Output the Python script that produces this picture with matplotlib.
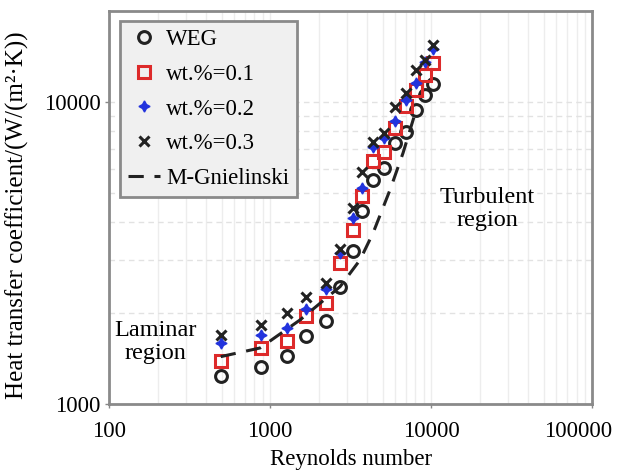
import numpy as np
import matplotlib.pyplot as plt
import matplotlib.transforms as mtransforms
from matplotlib.ticker import FixedLocator, NullFormatter, LogLocator

plt.rcParams['font.family'] = ['Liberation Serif', 'DejaVu Serif']

# Reynolds numbers of the measurement points
re = [496, 873, 1275, 1662, 2228, 2722, 3278, 3712, 4381, 5105, 5976, 6942, 8012, 9177, 10290]

h_weg = [1238, 1329, 1442, 1680, 1888, 2446, 3218, 4355, 5516, 6031, 7298, 7973, 9408, 10546, 11446]
h_01 = [1385, 1532, 1613, 1956, 2165, 2937, 3754, 4884, 6346, 6845, 8183, 9700, 10957, 12288, 13431]
h_02 = [1596, 1688, 1785, 2059, 2398, 3155, 4129, 5178, 7112, 7583, 8650, 10153, 11532, 13598, 14945]
h_03 = [1696, 1830, 1996, 2256, 2510, 3268, 4446, 5877, 7388, 7914, 9647, 10689, 12764, 13776, 15444]

# M-Gnielinski correlation curve
re_gn = [494, 867, 1535, 2722, 3622, 4363, 5559, 6698, 7834]
h_gn = [1434, 1532, 1897, 2445, 2999, 3681, 5113, 6776, 8917]

fig = plt.figure(figsize=(6.17, 4.73), dpi=100)
ax = fig.add_axes([0.1767, 0.146, 0.783, 0.831])
ax.set_xscale('log')
ax.set_yscale('log')
ax.set_xlim(100, 100000)
ax.set_ylim(1000, 20000)

ax.plot(re, h_weg, 'o', mfc='none', mec='#222222', mew=2.2, ms=8.5, ls='none', label='WEG')
ax.plot(re, h_01, 's', mfc='none', mec='#dd2a2a', mew=2.2, ms=8, ls='none', label='wt.%=0.1')
ax.plot(re, h_02, marker=(4, 1, 0), color='#2233dd', ms=8, ls='none', label='wt.%=0.2')
ax.plot(re, h_03, 'x', color='#222222', mew=2.2, ms=7, ls='none', label='wt.%=0.3')
ax.plot(re_gn, h_gn, '--', color='#222222', lw=2.2, dashes=(5, 3.5), label='M-Gnielinski')

# grid
ax.xaxis.set_minor_locator(LogLocator(base=10, subs=np.arange(2, 10)))
ax.yaxis.set_minor_locator(FixedLocator([2000, 3000, 4000, 5000, 6000, 7000, 8000, 9000]))
ax.xaxis.set_minor_formatter(NullFormatter())
ax.yaxis.set_minor_formatter(NullFormatter())
ax.grid(True, axis='x', which='both', color='#ededed', lw=1, ls='-')
ax.grid(True, axis='y', which='both', color='#e2e2e2', lw=1, ls=(0, (4, 3)))
ax.set_axisbelow(True)

ax.set_xticks([100, 1000, 10000, 100000])
ax.set_xticklabels(['100', '1000', '10000', '100000'])
ax.set_yticks([1000, 10000])
ax.set_yticklabels(['1000', '10000'])
ax.tick_params(which='major', length=3, width=1, color='#888888', labelsize=16.5, pad=3)
ax.tick_params(which='minor', length=0)
ax.tick_params(axis='x', pad=9)

# the last x label sits a bit left of its tick in the original
lab = ax.get_xticklabels()[-1]
lab.set_transform(lab.get_transform() + mtransforms.ScaledTranslation(-14 / 100, 0, fig.dpi_scale_trans))

for s in ax.spines.values():
    s.set_color('#8a8a8a')
    s.set_linewidth(2)

ax.set_xlabel('Reynolds number', fontsize=16.5, labelpad=5)
ax.set_ylabel('Heat transfer coefficient/(W/(m²·K))', fontsize=18, labelpad=1)
ax.yaxis.set_label_coords(-0.165, 0.48)

ax.text(193, 1604, 'Laminar\nregion', fontsize=17.5, ha='center', va='center', linespacing=1.15)
ax.text(22300, 4423, 'Turbulent\nregion', fontsize=17.5, ha='center', va='center', linespacing=1.15)

leg = ax.legend(loc='upper left', bbox_to_anchor=(0.0228, 0.9746), borderaxespad=0,
                fontsize=16.5, frameon=True, fancybox=False, edgecolor='#8a8a8a',
                facecolor='#f0f0f0', framealpha=1, handlelength=1.4, handletextpad=0.26,
                labelspacing=0.6, borderpad=0.35)
leg.get_frame().set_linewidth(2)

fig.savefig('out.png', dpi=100)
